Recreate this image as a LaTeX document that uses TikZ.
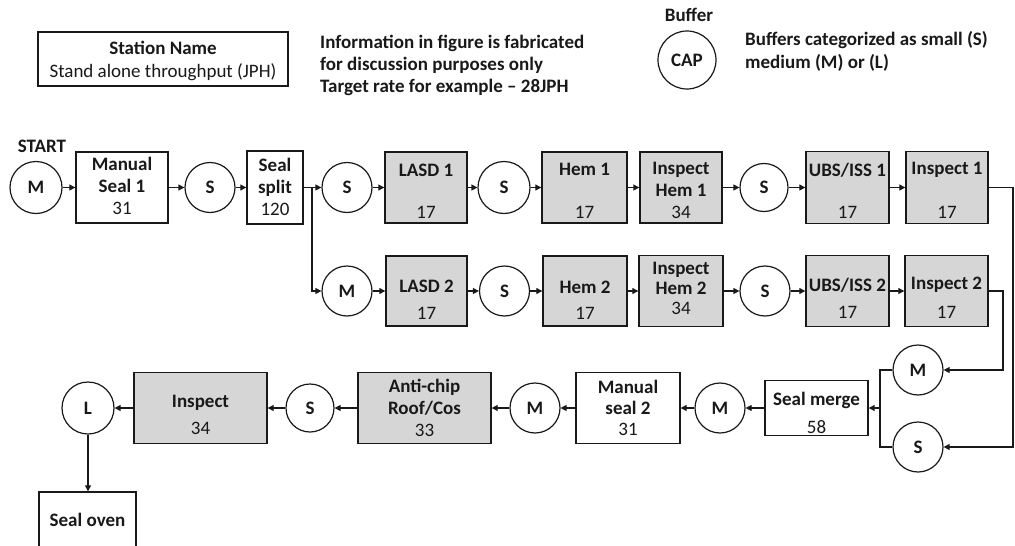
\documentclass[tikz,border=0pt]{standalone}
\usepackage{fontspec}
\setmainfont{Carlito}
\usetikzlibrary{arrows.meta}
\definecolor{boxgray}{RGB}{214,214,214}
\definecolor{ink}{RGB}{25,25,25}
\begin{document}
\begin{tikzpicture}[x=1pt,y=-1pt,
  box/.style={draw=ink, line width=1.4pt, inner sep=0pt, rectangle},
  wbox/.style={box, fill=white},
  gbox/.style={box, fill=boxgray},
  buf/.style={draw=ink, circle, line width=1.2pt, minimum size=50pt, inner sep=0pt, fill=white,
              font=\fontsize{19}{22}\selectfont\bfseries, text=ink},
  lbl/.style={inner sep=0pt, align=center, text=ink, font=\fontsize{19}{22}\selectfont},
  blbl/.style={lbl, font=\fontsize{19}{22}\selectfont\bfseries},
  arr/.style={draw=ink, line width=1.2pt, -{Triangle[length=6pt,width=6pt]}},
  con/.style={draw=ink, line width=1.2pt}
]
\useasboundingbox (0,0) rectangle (1015,546);
\clip (0,0) rectangle (1015,546);

% ---------- legend ----------
\node[wbox, minimum width=250pt, minimum height=54pt] (leg) at (163,59) {};
\node[blbl] (legt) at (163,48) {Station Name};
\node[lbl] (legn) at (163,72) {Stand alone throughput (JPH)};
\node[blbl, anchor=west, align=left] (info) at (320,65)
  {Information in figure is fabricated\\for discussion purposes only\\Target rate for example -- 28JPH};
\node[blbl] (buft) at (689,15) {Buffer};
\node[buf, minimum size=58pt] (cap) at (687,60) {CAP};
\node[blbl, anchor=west, align=left] (bufinfo) at (745,51)
  {Buffers categorized as small (S)\\[1pt]medium (M) or (L)};

% ---------- row 1 ----------
\node[blbl] (start) at (42,146) {START};
\node[buf, minimum size=52pt] (m0) at (36,187.5) {M};
\node[wbox, minimum width=92pt, minimum height=71pt] (ms1) at (122,187.5) {};
\node[blbl] (ms1t) at (122,186) {Manual\\Seal 1\\{\mdseries 31}};
\node[buf] (s1) at (210,187.5) {S};
\node[wbox, minimum width=56pt, minimum height=73pt] (ss) at (275,187.5) {};
\node[blbl] (sst) at (275,187) {Seal\\split\\{\mdseries 120}};
\coordinate (sp) at (312,187.5);
\node[buf] (s2) at (347,187.5) {S};
\node[gbox, minimum width=82pt, minimum height=71pt] (lasd1) at (426,187.5) {};
\node[blbl] (lasd1t) at (426,170) {LASD 1};
\node[lbl] (lasd1n) at (426,212) {17};
\node[buf, minimum size=52pt] (s3) at (504,187.5) {S};
\node[gbox, minimum width=85pt, minimum height=71pt] (hem1) at (584.5,187.5) {};
\node[blbl] (hem1t) at (584.5,169) {Hem 1};
\node[lbl] (hem1n) at (584.5,212) {17};
\node[gbox, minimum width=82pt, minimum height=71pt] (ih1) at (681,187.5) {};
\node[blbl] (ih1t) at (681,190) {Inspect\\Hem 1\\{\mdseries 34}};
\node[buf, minimum size=48pt] (s4) at (764,187.5) {S};
\node[gbox, minimum width=83pt, minimum height=72pt] (ubs1) at (847.5,187.5) {};
\node[blbl] (ubs1t) at (847.5,170) {UBS/ISS 1};
\node[lbl] (ubs1n) at (847.5,212) {17};
\node[gbox, minimum width=82pt, minimum height=72pt] (insp1) at (947,187.5) {};
\node[blbl] (insp1t) at (947,170) {Inspect 1};
\node[lbl] (insp1n) at (947,212) {17};

% ---------- row 2 ----------
\node[buf] (m1) at (347,291) {M};
\node[gbox, minimum width=81pt, minimum height=70pt] (lasd2) at (426.5,291) {};
\node[blbl] (lasd2t) at (426.5,286) {LASD 2};
\node[lbl] (lasd2n) at (426.5,313) {17};
\node[buf] (s6) at (504.5,291) {S};
\node[gbox, minimum width=84pt, minimum height=70pt] (hem2) at (585,291) {};
\node[blbl] (hem2t) at (585,287) {Hem 2};
\node[lbl] (hem2n) at (585,313) {17};
\node[gbox, minimum width=84pt, minimum height=71pt] (ih2) at (681,291) {};
\node[blbl, font=\fontsize{19}{20}\selectfont\bfseries] (ih2t) at (681,288) {Inspect\\Hem 2\\{\mdseries 34}};
\node[buf] (s7) at (765,291) {S};
\node[gbox, minimum width=83pt, minimum height=71pt] (ubs2) at (847.5,291) {};
\node[blbl] (ubs2t) at (847.5,285) {UBS/ISS 2};
\node[lbl] (ubs2n) at (847.5,312) {17};
\node[gbox, minimum width=83pt, minimum height=71pt] (insp2) at (946.5,291) {};
\node[blbl] (insp2t) at (946.5,285) {Inspect 2};
\node[lbl] (insp2n) at (946.5,312) {17};

% ---------- row 3 ----------
\node[buf] (m2) at (918,370) {M};
\node[buf] (s5) at (918,447) {S};
\coordinate (mjt) at (880,370);
\coordinate (mjb) at (880,447);
\coordinate (mj) at (880,408);
\node[wbox, minimum width=103pt, minimum height=55pt] (sm) at (816.5,408) {};
\node[blbl] (smt) at (816.5,400) {Seal merge};
\node[lbl] (smn) at (816.5,427) {58};
\node[buf] (m3) at (720,408) {M};
\node[wbox, minimum width=104pt, minimum height=71pt] (ms2) at (628,408) {};
\node[blbl, font=\fontsize{19}{21}\selectfont\bfseries] (ms2t) at (628,408) {Manual\\seal 2\\{\mdseries 31}};
\node[buf] (m4) at (535,408) {M};
\node[gbox, minimum width=133pt, minimum height=71pt] (ac) at (424.5,408) {};
\node[blbl, font=\fontsize{19}{22}\selectfont\bfseries] (act) at (424.5,397) {Anti-chip\\Roof/Cos};
\node[lbl] (acn) at (424.5,430) {33};
\node[buf, minimum size=48pt] (s8) at (310,408) {S};
\node[gbox, minimum width=133pt, minimum height=71pt] (insp) at (200.5,408) {};
\node[blbl] (inspt) at (200.5,403) {Inspect};
\node[lbl] (inspn) at (200.5,428) {34};
\node[buf, minimum size=52pt] (l) at (88,408) {L};
\node[wbox, minimum width=97pt, minimum height=56pt] (so) at (87.5,520) {};
\node[blbl] (sot) at (87.5,520) {Seal oven};

% ---------- connectors ----------
\draw[arr] (m0) -- (ms1);
\draw[arr] (ms1) -- (s1);
\draw[arr] (s1) -- (ss);
\draw[arr] (ss) -- (s2);
\draw[arr] (sp) |- (m1);
\draw[arr] (s2) -- (lasd1);
\draw[arr] (lasd1) -- (s3);
\draw[arr] (s3) -- (hem1);
\draw[arr] (hem1) -- (ih1);
\draw[arr] (ih1) -- (s4);
\draw[arr] (s4) -- (ubs1);
\draw[arr] (ubs1) -- (insp1);

\draw[arr] (m1) -- (lasd2);
\draw[arr] (lasd2) -- (s6);
\draw[arr] (s6) -- (hem2);
\draw[arr] (hem2) -- (ih2);
\draw[arr] (ih2) -- (s7);
\draw[arr] (s7) -- (ubs2);
\draw[arr] (ubs2) -- (insp2);

\coordinate (c1) at (1013,187.5);
\coordinate (c2) at (1003,291);
\draw[arr] (insp1.east) -- (c1) |- (s5);
\draw[arr] (insp2.east) -- (c2) |- (m2);

\draw[con] (m2) -- (mjt) -- (mjb) -- (s5);
\draw[arr] (mj) -- (sm);
\draw[arr] (sm) -- (m3);
\draw[arr] (m3) -- (ms2);
\draw[arr] (ms2) -- (m4);
\draw[arr] (m4) -- (ac);
\draw[arr] (ac) -- (s8);
\draw[arr] (s8) -- (insp);
\draw[arr] (insp) -- (l);
\draw[arr] (l) -- (l |- so.north);
\end{tikzpicture}
\end{document}
